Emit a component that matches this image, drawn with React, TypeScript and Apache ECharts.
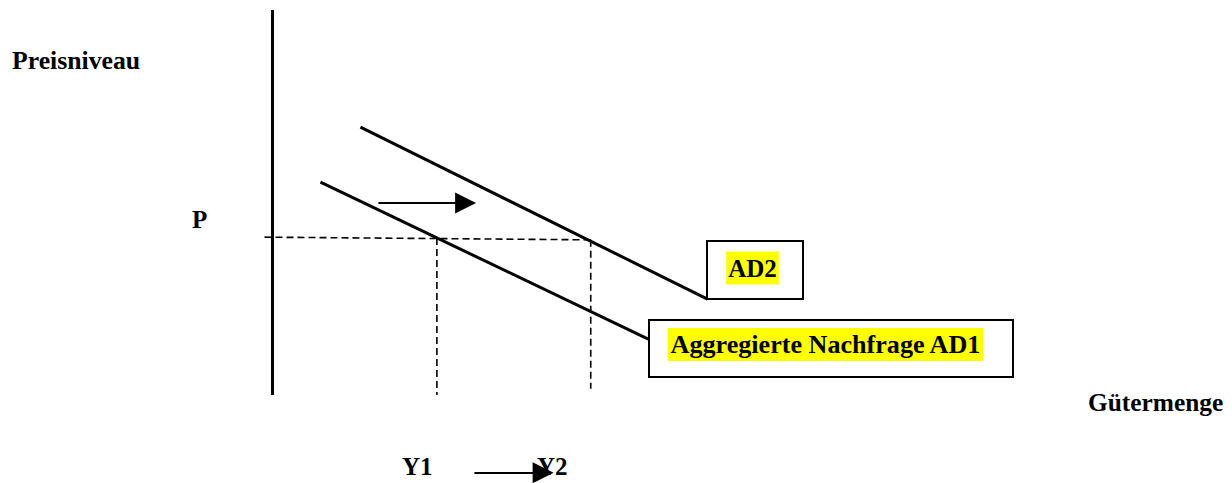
import React, { useEffect, useRef } from "react";
import * as echarts from "echarts";

// Axis (Preisniveau) drawn from origin upward
const PRICE_AXIS: number[][] = [[0, 0], [0, 100]];
// Aggregate demand curves [Gütermenge, Preisniveau]
const AD1: number[][] = [[6, 55.3], [47, 14.5]];
const AD2: number[][] = [[11, 69.6], [54.4, 24.9]];
// Price level P and quantities
const P_LINE: number[][] = [[-1, 41.0], [39.8, 40.3]];
const Y1_LINE: number[][] = [[20.56, 40.8], [20.56, 0]];
const Y2_LINE: number[][] = [[39.8, 40.3], [39.8, 1.6]];
// Shift arrows
const SHIFT_ARROW: number[][] = [[13.25, 49.9], [24.15, 49.9]];
const Q_ARROW: number[][] = [[25.25, -20.2], [33.85, -20.2]];

const FONT = "bold 25px 'Liberation Serif', 'Times New Roman', serif";

export default function App() {
  const ref = useRef<HTMLDivElement>(null);
  useEffect(() => {
    if (!ref.current) return;
    const chart = echarts.init(ref.current, undefined, { renderer: "svg" });
    const solid = (data: number[][], w: number) => ({
      type: "line",
      data,
      symbol: "none",
      clip: false,
      lineStyle: { color: "#000", width: w },
      silent: true,
    });
    const dashed = (data: number[][]) => ({
      type: "line",
      data,
      symbol: "none",
      clip: false,
      lineStyle: { color: "#000", width: 1.6, type: [7, 4] },
      silent: true,
    });
    const arrow = (data: number[][]) => ({
      type: "lines",
      coordinateSystem: "cartesian2d",
      clip: false,
      silent: true,
      symbol: ["none", "triangle"],
      symbolSize: 21,
      lineStyle: { color: "#000", width: 2, opacity: 1 },
      itemStyle: { color: "#000" },
      data: [{ coords: data }],
    });
    const txt = (text: string, x: number, y: number, sx = 1, extra: any = {}) => ({
      type: "text",
      x,
      y,
      scaleX: sx,
      style: {
        text,
        font: FONT,
        fill: "#000",
        verticalAlign: "middle",
        align: "left",
        ...extra,
      },
    });
    chart.setOption({
      animation: false,
      backgroundColor: "#fff",
      grid: { left: 264.5, top: 10, right: 0, bottom: 88 },
      xAxis: { type: "value", min: -1, max: 120, show: false },
      yAxis: { type: "value", min: 0, max: 100, show: false },
      series: [
        solid(PRICE_AXIS, 3),
        dashed(P_LINE),
        dashed(Y1_LINE),
        dashed(Y2_LINE),
        solid(AD1, 3),
        solid(AD2, 3),
        arrow(SHIFT_ARROW),
        arrow(Q_ARROW),
      ],
      graphic: [
        {
          type: "rect",
          shape: { x: 707, y: 241, width: 96, height: 58 },
          style: { fill: "#fff", stroke: "#000", lineWidth: 2 },
          z: 10,
        },
        {
          type: "rect",
          shape: { x: 649, y: 320, width: 364, height: 57 },
          style: { fill: "#fff", stroke: "#000", lineWidth: 2 },
          z: 10,
        },
        { ...txt("AD2", 752.5, 268, 1, { align: "center", backgroundColor: "#ffff00", padding: [4, 2, 4, 2] }), z: 11 },
        { ...txt("Aggregierte Nachfrage AD1", 825.5, 344.5, 1.045, { align: "center", backgroundColor: "#ffff00", padding: [4, 2, 4, 2] }), z: 11 },
        txt("Preisniveau", 12, 60, 1.03),
        txt("P", 192, 219.5),
        txt("Gütermenge", 1088, 403, 1.015),
        txt("Y1", 402, 466.5),
        txt("Y2", 537, 466.5),
      ],
    });
    return () => chart.dispose();
  }, []);
  return (
    <div
      ref={ref}
      style={{ position: "fixed", left: 0, top: 0, width: 1232, height: 483 }}
    />
  );
}
